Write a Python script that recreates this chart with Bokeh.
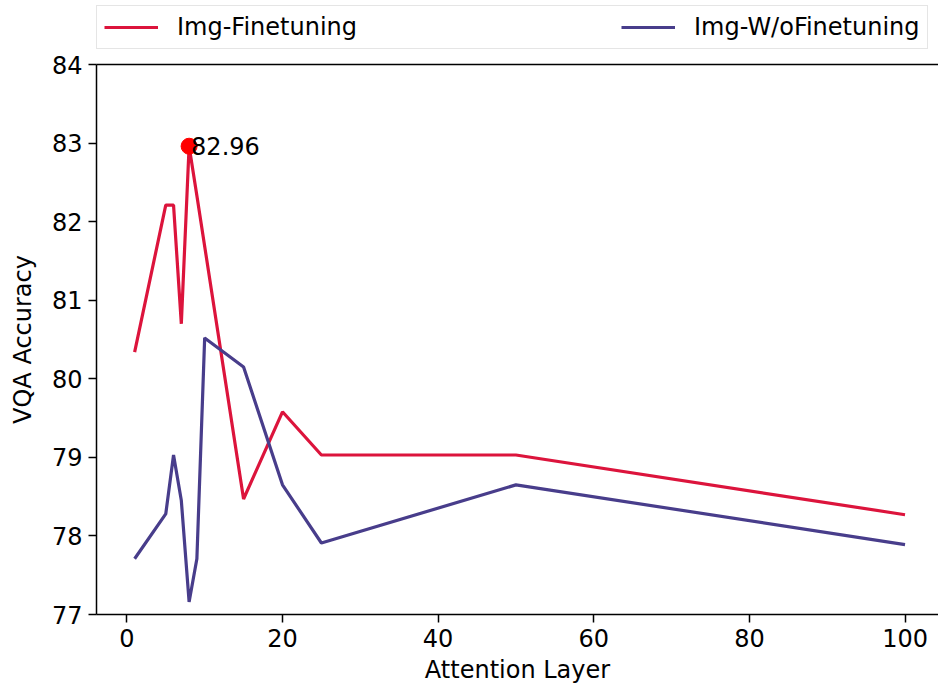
from bokeh.plotting import figure
from bokeh.layouts import column
from bokeh.models import Range1d, Legend, LegendItem, LinearAxis, FixedTicker, ColumnDataSource
from bokeh.embed import file_html
from bokeh.resources import INLINE
from bokeh.core.properties import value

# Data
layers_ft = [1, 5, 6, 7, 8, 9, 15, 20, 25, 50, 100]
acc_ft = [80.34, 82.21, 82.21, 80.70, 82.96, 82.33, 78.47, 79.58, 79.03, 79.03, 78.27]
layers_noft = [1, 5, 6, 7, 8, 9, 10, 15, 20, 25, 50, 100]
acc_noft = [77.71, 78.28, 79.03, 78.45, 77.16, 77.71, 80.52, 80.15, 78.65, 77.91, 78.65, 77.89]
series_names = ["Img-Finetuning", "Img-W/oFinetuning"]
x_ticks = [0, 20, 40, 60, 80, 100]
y_ticks = [77, 78, 79, 80, 81, 82, 83, 84]
best_x = [8]
best_y = [82.96]
best_label = ["82.96"]

FONT = "DejaVu Sans"
FS = "24px"
RED = "#DC143C"
BLUE = "#483D8B"

# Legend strip above the plot (series drawn out of view; only the legend shows)
lf = figure(width=938, height=50, output_backend="svg", toolbar_location=None,
            x_range=Range1d(0, 1), y_range=Range1d(0, 1),
            min_border_left=0, min_border_right=0, min_border_top=0, min_border_bottom=0)
lf.axis.visible = False
lf.grid.visible = False
lf.outline_line_color = None
lr1 = lf.line(layers_ft, acc_ft, line_color=RED, line_width=3.2)
lr2 = lf.line(layers_noft, acc_noft, line_color=BLUE, line_width=3.2)
legend = Legend(items=[LegendItem(label=series_names[0], renderers=[lr1]),
                       LegendItem(label=series_names[1], renderers=[lr2])],
                orientation="horizontal", location=(0, 1),
                label_text_font=FONT, label_text_font_size=FS, label_text_color="black",
                glyph_width=54, glyph_height=28, label_standoff=19,
                spacing=264, padding=7, margin=0,
                border_line_color="#cccccc", border_line_width=1.5,
                background_fill_color="white", background_fill_alpha=1.0)
lf.add_layout(legend, "center")

# Main plot
p = figure(width=938, height=643, output_backend="svg", toolbar_location=None,
           x_range=Range1d(-3.9, 104.3), y_range=Range1d(77, 84),
           min_border_left=96, min_border_top=14, min_border_bottom=79, min_border_right=0)
p.grid.visible = False
p.outline_line_color = None
p.background_fill_color = "white"
p.border_fill_color = "white"

r1 = p.line(layers_ft, acc_ft, line_color=RED, line_width=3.2)
r2 = p.line(layers_noft, acc_noft, line_color=BLUE, line_width=3.2)

src = ColumnDataSource(dict(x=best_x, y=best_y, t=best_label))
p.scatter("x", "y", source=src, size=16, fill_color="red", line_color="red")
p.text("x", "y", text="t", source=src, text_font=value(FONT), text_font_size=FS,
       text_align="left", text_baseline="alphabetic", x_offset=2, text_color="black")

for ax in (p.xaxis[0], p.yaxis[0]):
    ax.axis_line_width = 1.5
    ax.axis_line_color = "black"
    ax.major_tick_line_width = 1.5
    ax.major_tick_out = 8
    ax.major_tick_in = 0
    ax.minor_tick_line_color = None
    ax.major_label_text_font = FONT
    ax.major_label_text_font_size = FS
    ax.major_label_text_color = "black"
    ax.axis_label_text_font = FONT
    ax.axis_label_text_font_size = FS
    ax.axis_label_text_font_style = "normal"
    ax.axis_label_text_color = "black"

p.xaxis[0].ticker = FixedTicker(ticks=x_ticks)
p.yaxis[0].ticker = FixedTicker(ticks=y_ticks)
p.xaxis[0].axis_label = "Attention Layer"
p.yaxis[0].axis_label = "VQA Accuracy"
p.xaxis[0].major_label_standoff = 6
p.xaxis[0].axis_label_standoff = 6
p.yaxis[0].major_label_standoff = 6
p.yaxis[0].axis_label_standoff = 12

top = LinearAxis(axis_line_width=1.5, axis_line_color="black",
                 major_tick_line_color=None, minor_tick_line_color=None,
                 major_label_text_font_size="0px", ticker=FixedTicker(ticks=[]))
p.add_layout(top, "above")

open("out.html", "w").write(file_html(column(lf, p, spacing=0), INLINE))
